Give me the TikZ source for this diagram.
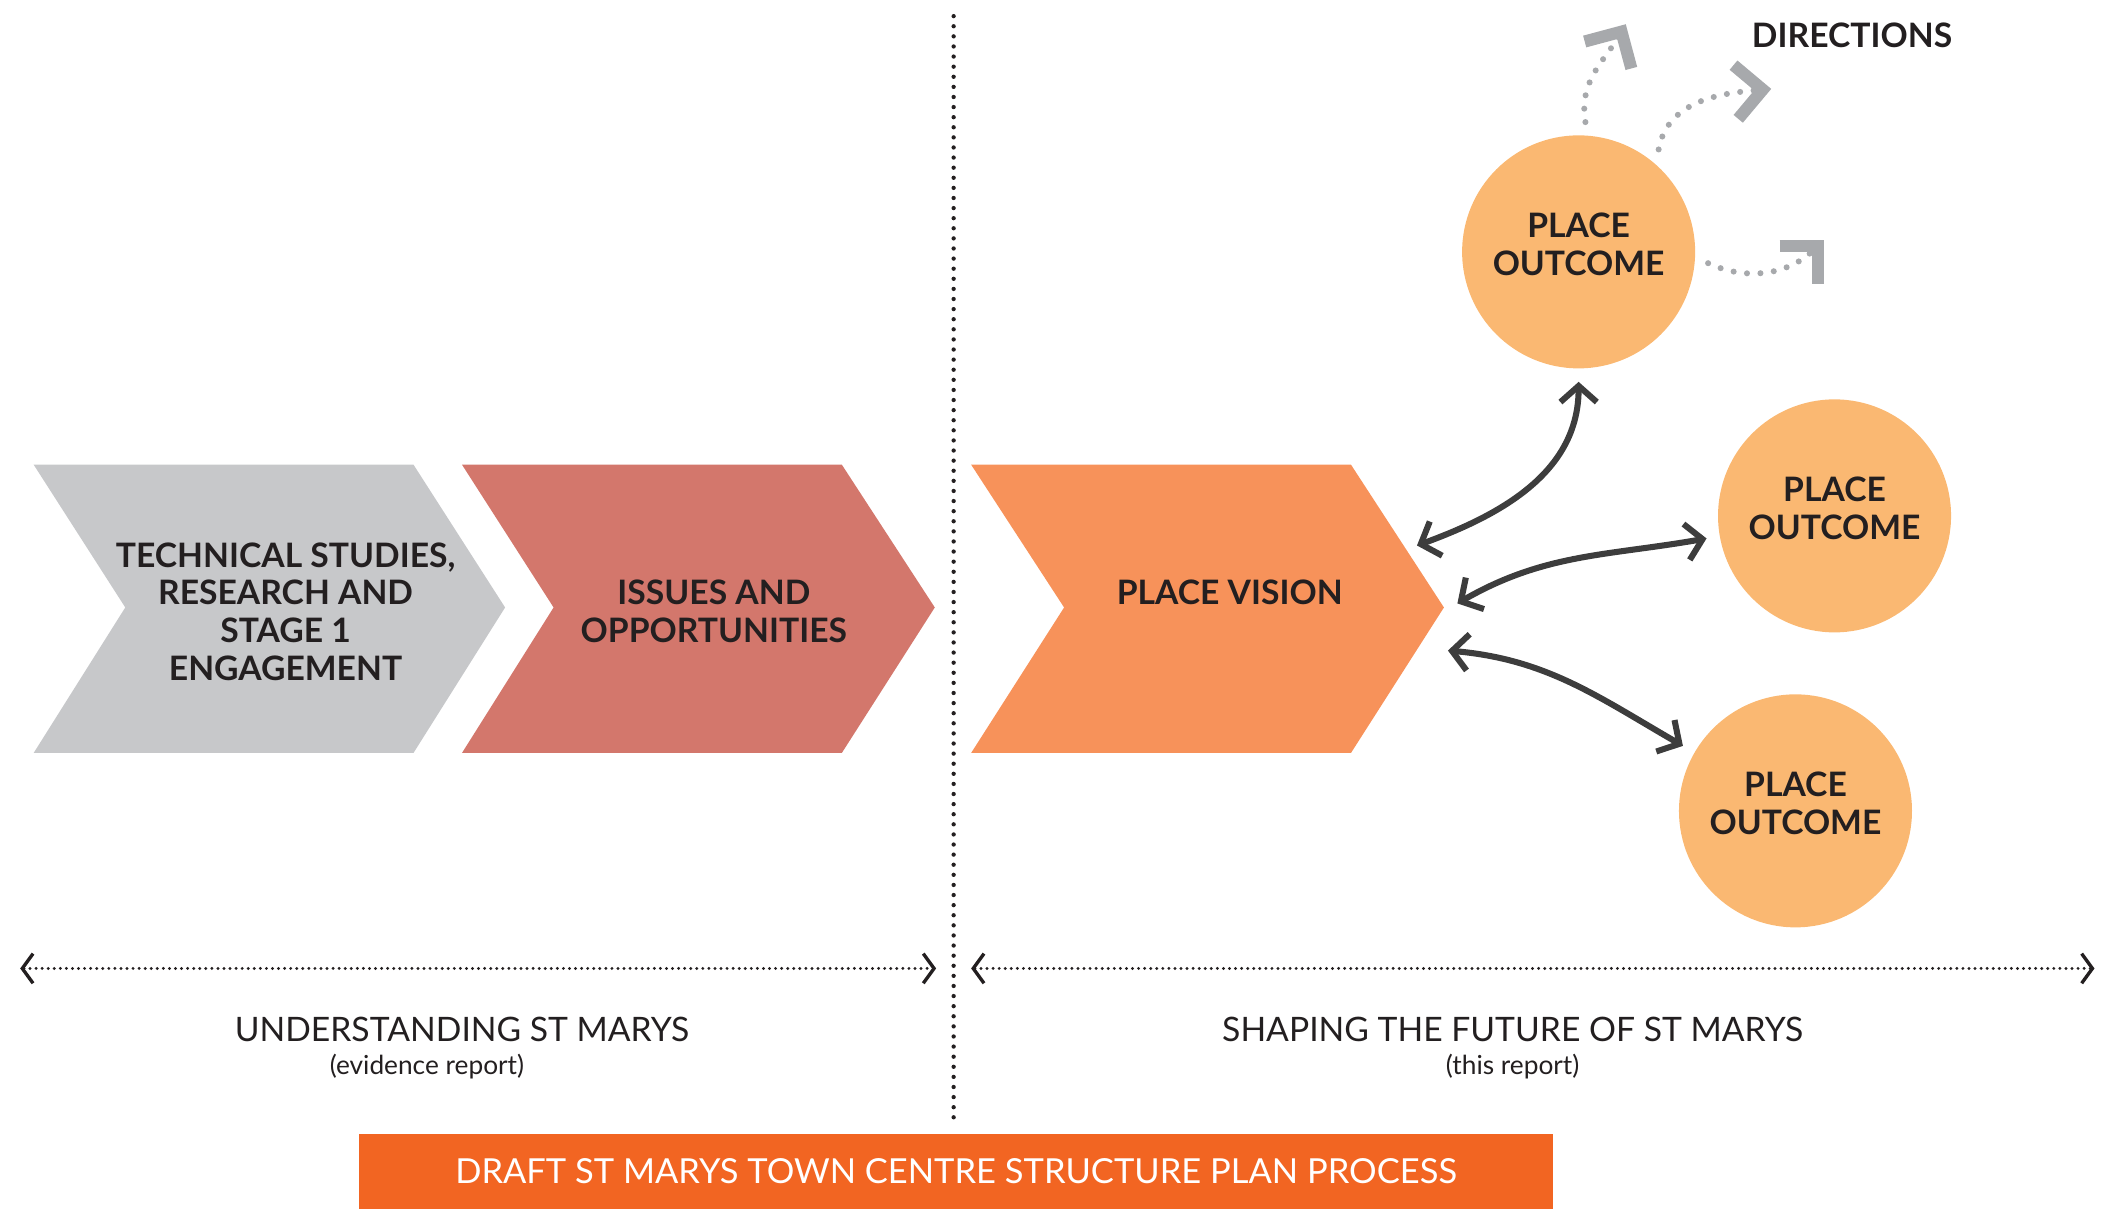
\documentclass[tikz,border=0pt]{standalone}
\usepackage{fontspec}
\setmainfont{Lato}
\usetikzlibrary{positioning,arrows.meta}
\definecolor{greychev}{HTML}{C7C8CA}
\definecolor{redchev}{HTML}{D3776C}
\definecolor{visionchev}{HTML}{F7925A}
\definecolor{outcomefill}{HTML}{FAB872}
\definecolor{barfill}{HTML}{F26522}
\definecolor{linkgrey}{HTML}{3D3D3D}
\definecolor{dirgrey}{HTML}{A7A9AC}
\definecolor{inkblack}{HTML}{231F20}

\begin{document}
\begin{tikzpicture}[x=1pt, y=1pt,
	chevtext/.style={align=center, text=inkblack, font=\fontsize{25}{28}\selectfont\bfseries},
	outcome/.style={circle, fill=outcomefill, minimum size=173pt, inner sep=0pt, outer sep=10pt, align=center, text depth=11pt, text=inkblack, font=\fontsize{25}{28}\selectfont\bfseries},
	heading/.style={text=inkblack, font=\fontsize{25}{28}\selectfont},
	subheading/.style={text=inkblack, font=\fontsize{19.5}{22}\selectfont},
	link/.style={draw=linkgrey, line width=4.5pt, {Straight Barb[length=12pt,width=27pt,sharp]}-{Straight Barb[length=12pt,width=27pt,sharp]}},
	direction/.style={draw=dirgrey, line width=4.5pt, line cap=round, dash pattern=on 0pt off 10pt, -{Straight Barb[length=20pt,width=40pt,line width=9pt,sharp]}},
	span/.style={draw=inkblack, line width=2.4pt, line cap=round, dash pattern=on 0pt off 4.5pt, {Straight Barb[length=8pt,width=22pt,line width=2.5pt,sharp]}-{Straight Barb[length=8pt,width=22pt,line width=2.5pt,sharp]}}
	]
	\useasboundingbox (0,0) rectangle (1568,898);
	\fill[greychev] (25,553) -- (307,553) -- (375,447) -- (307,339) -- (25,339) -- (93,447) -- cycle;
	\fill[redchev] (343,553) -- (625,553) -- (694,447) -- (625,339) -- (343,339) -- (411,447) -- cycle;
	\fill[visionchev] (721,553) -- (1003,553) -- (1072,447) -- (1003,339) -- (721,339) -- (790,447) -- cycle;
	\node[chevtext] (studies) at (212,444) {TECHNICAL STUDIES,\\RESEARCH AND\\STAGE 1\\ENGAGEMENT};
	\node[chevtext] (issues) at (530,444) {ISSUES AND\\OPPORTUNITIES};
	\node[chevtext] (vision) at (913,458) {PLACE VISION};
	\coordinate (visiontop) at (1052,493);
	\coordinate (visiontip) at (1082,450);
	\coordinate (visionlow) at (1075,415);
	\node[outcome] (outcomeA) at (1172,711) {PLACE\\OUTCOME};
	\node[outcome] (outcomeB) at (1362,515) {PLACE\\OUTCOME};
	\node[outcome] (outcomeC) at (1333,296) {PLACE\\OUTCOME};
	\node[chevtext] (directions) at (1375,872) {DIRECTIONS};
	\coordinate (dirup) at (1207,880);
	\coordinate (dirright) at (1315,832);
	\coordinate (dirlow) at (1354,720);
	\draw[direction] (outcomeA.87) to[out=100, in=240] (dirup);
	\draw[direction] (outcomeA.52) to[out=80, in=185] (dirright);
	\draw[direction] (outcomeA.-5) to[out=-25, in=225] (dirlow);
	\draw[link] (visiontop) to[out=20, in=-90] (outcomeA);
	\draw[link] (visiontip) to[out=30, in=190] (outcomeB);
	\draw[link] (visionlow) to[out=-5, in=150] (outcomeC);
	\coordinate (dividertop) at (708,886);
	\coordinate (dividerbottom) at (708,63);
	\draw[inkblack, line width=3.2pt, line cap=round, dash pattern=on 0pt off 7.5pt] (dividertop) -- (dividerbottom);
	\coordinate (leftstart) at (15,179);
	\coordinate (leftend) at (695,179);
	\coordinate (rightstart) at (721,179);
	\coordinate (rightend) at (1555,179);
	\draw[span] (leftstart) -- (leftend);
	\draw[span] (rightstart) -- (rightend);
	\node[heading] (understanding) at (343,134) {UNDERSTANDING ST MARYS};
	\node[subheading] (evidence) at (317,106) {(evidence report)};
	\node[heading] (shaping) at (1123,134) {SHAPING THE FUTURE OF ST MARYS};
	\node[subheading] (thisreport) at (1123,106) {(this report)};
	\node[fill=barfill, anchor=south west, minimum width=887pt, minimum height=56pt, inner sep=0pt, text=white, font=\fontsize{25.6}{28}\selectfont] (process) at (266,0) {DRAFT ST MARYS TOWN CENTRE STRUCTURE PLAN PROCESS};
\end{tikzpicture}
\end{document}
